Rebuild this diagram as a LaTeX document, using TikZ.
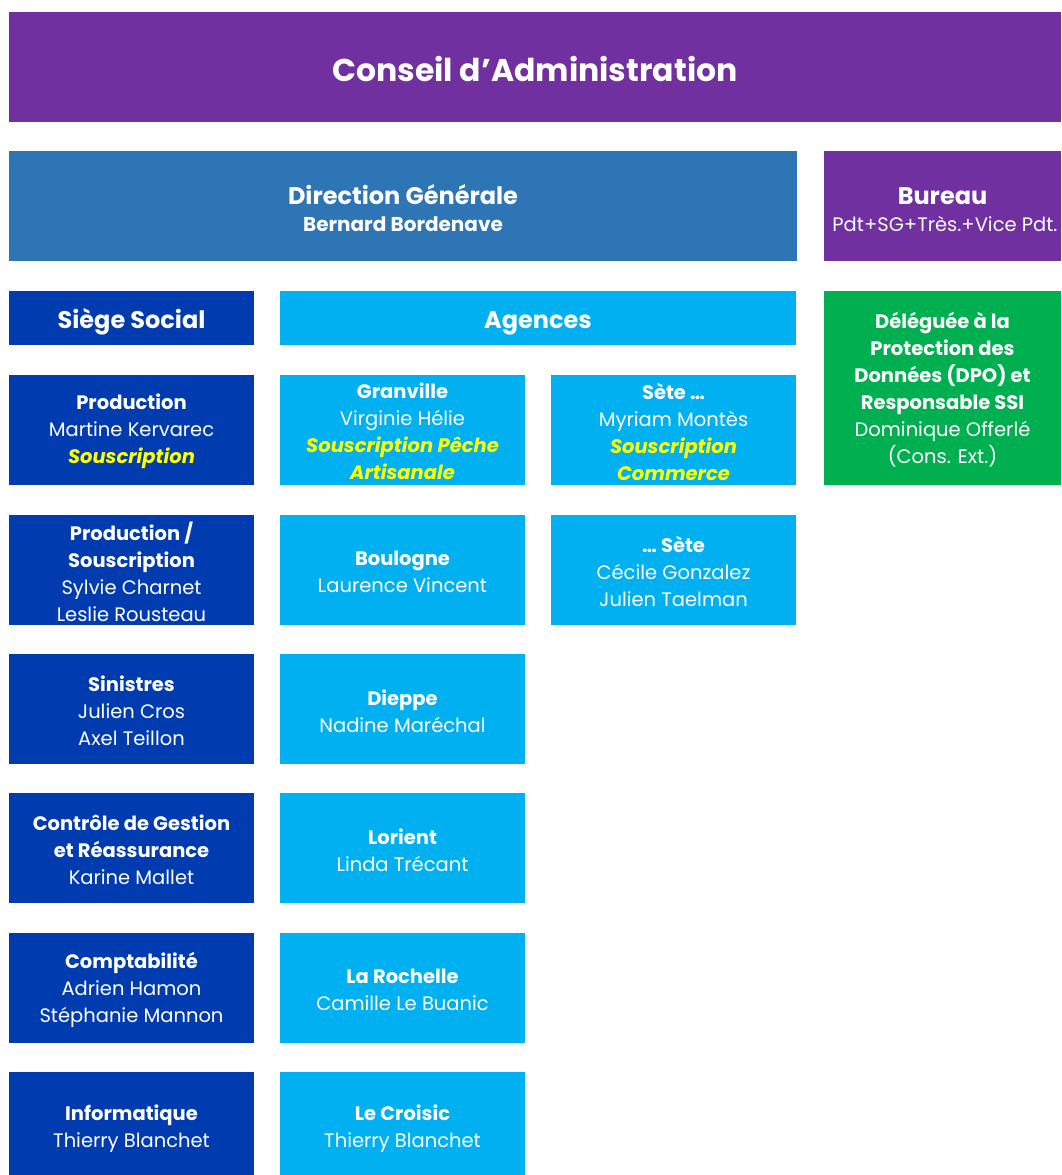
\documentclass[tikz,border=0pt]{standalone}
\usepackage{fontspec}
\setmainfont{Poppins}

\definecolor{conseil}{HTML}{7030A0}
\definecolor{direction}{HTML}{2E75B6}
\definecolor{siege}{HTML}{003CB0}
\definecolor{agence}{HTML}{00B0F0}
\definecolor{dpo}{HTML}{00B050}
\definecolor{souscr}{HTML}{FFFF00}

\newcommand{\hd}[1]{\textbf{#1}}
\newcommand{\sous}[1]{\textcolor{souscr}{\textbf{\itshape #1}}}

\tikzset{
  cell/.style={inner sep=0pt},
  txt/.style={inner sep=0pt, align=center, text=white, yshift=-2pt,
    font=\fontsize{19.5}{27}\selectfont},
  unit/.style={cell, minimum width=245pt, minimum height=110pt},
  siegebox/.style={unit, fill=siege},
  agencebox/.style={unit, fill=agence},
}

\begin{document}
\begin{tikzpicture}[x=1pt,y=-1pt]
\useasboundingbox (0,0) rectangle (1061,1175);

% top levels
\node[cell, fill=conseil, minimum width=1052pt, minimum height=110pt,
  label={[txt, font=\fontsize{31.5}{36}\selectfont\bfseries]center:{Conseil d’Administration}}] (ca) at (535,67) {};
\node[cell, fill=direction, minimum width=788pt, minimum height=110pt,
  label={[txt]center:{{\fontsize{24}{28}\selectfont\hd{Direction Générale}}\\{\fontsize{20}{28}\selectfont\hd{Bernard Bordenave}}}}] (dg) at (403,206) {};
\node[cell, fill=conseil, minimum width=237pt, minimum height=110pt,
  label={[txt, yshift=-2pt]center:{{\fontsize{24}{28}\selectfont\hd{Bureau}}\\\hspace*{5pt}Pdt+SG+Très.+Vice Pdt.}}] (bureau) at (942.5,206) {};

% headers
\node[cell, fill=siege, minimum width=245pt, minimum height=54pt,
  label={[txt, yshift=-2pt, font=\fontsize{24}{28}\selectfont\bfseries]center:{Siège Social}}] (ss) at (131.5,318) {};
\node[cell, fill=agence, minimum width=516pt, minimum height=54pt,
  label={[txt, yshift=-3pt, font=\fontsize{24}{28}\selectfont\bfseries]center:{Agences}}] (ag) at (538,318) {};
\node[cell, fill=dpo, minimum width=237pt, minimum height=194pt,
  label={[txt]center:{\hd{Déléguée à la}\\\hd{Protection des}\\\hd{Données (DPO) et}\\\hd{Responsable SSI}\\Dominique Offerlé\\(Cons. Ext.)}}] (dpo) at (942.5,388) {};

% siege social
\node[siegebox, label={[txt]center:{\hd{Production}\\Martine Kervarec\\\sous{Souscription}}}] (prod) at (131.5,429.5) {};
\node[siegebox, label={[txt]center:{\hd{Production /}\\\hd{Souscription}\\Sylvie Charnet\\Leslie Rousteau}}] (prodsous) at (131.5,569.5) {};
\node[siegebox, label={[txt]center:{\hd{Sinistres}\\Julien Cros\\Axel Teillon}}] (sin) at (131.5,709) {};
\node[siegebox, label={[txt]center:{\hd{Contrôle de Gestion}\\\hd{et Réassurance}\\Karine Mallet}}] (cg) at (131.5,848) {};
\node[siegebox, label={[txt]center:{\hd{Comptabilité}\\Adrien Hamon\\Stéphanie Mannon}}] (compta) at (131.5,988) {};
\node[siegebox, label={[txt]center:{\hd{Informatique}\\Thierry Blanchet}}] (info) at (131.5,1127) {};

% agences
\node[agencebox, label={[txt]center:{\hd{Granville}\\Virginie Hélie\\\sous{Souscription Pêche}\\\sous{Artisanale}}}] (granville) at (402.5,429.5) {};
\node[agencebox, label={[txt]center:{\hd{Sète …}\\Myriam Montès\\\sous{Souscription}\\\sous{Commerce}}}] (sete1) at (673.5,429.5) {};
\node[agencebox, label={[txt]center:{\hd{Boulogne}\\Laurence Vincent}}] (boulogne) at (402.5,569.5) {};
\node[agencebox, label={[txt]center:{\hd{… Sète}\\Cécile Gonzalez\\Julien Taelman}}] (sete2) at (673.5,569.5) {};
\node[agencebox, label={[txt]center:{\hd{Dieppe}\\Nadine Maréchal}}] (dieppe) at (402.5,709) {};
\node[agencebox, label={[txt]center:{\hd{Lorient}\\Linda Trécant}}] (lorient) at (402.5,848) {};
\node[agencebox, label={[txt]center:{\hd{La Rochelle}\\Camille Le Buanic}}] (rochelle) at (402.5,988) {};
\node[agencebox, label={[txt]center:{\hd{Le Croisic}\\Thierry Blanchet}}] (croisic) at (402.5,1127) {};
\end{tikzpicture}
\end{document}
